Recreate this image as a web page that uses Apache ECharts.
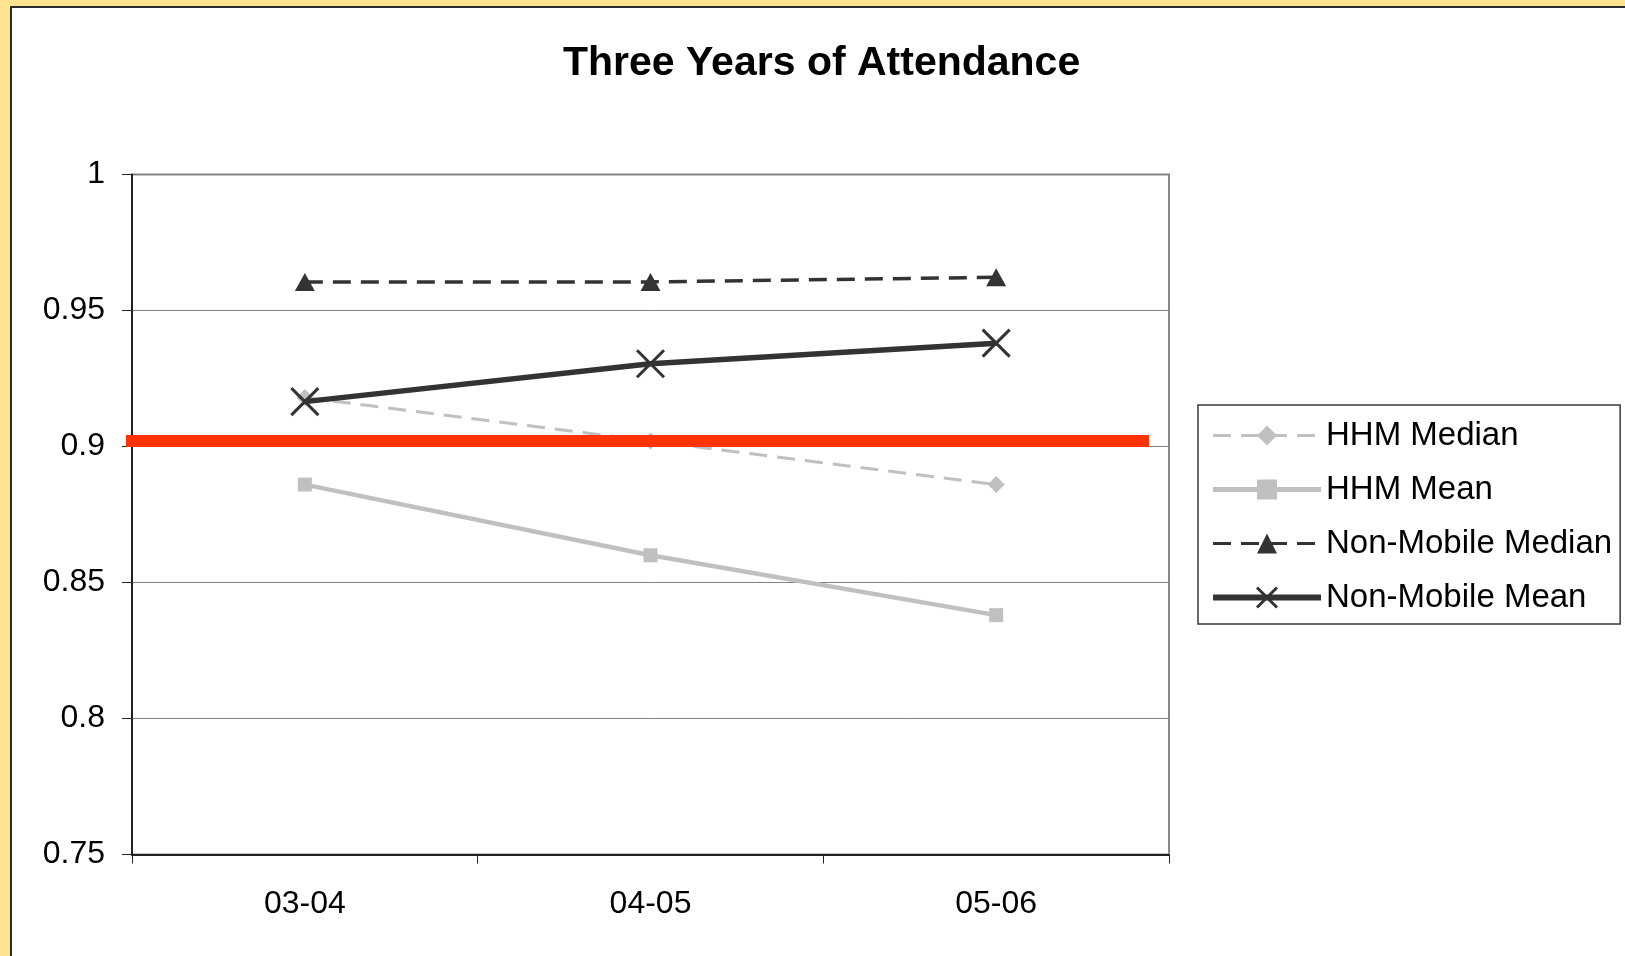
<!DOCTYPE html>
<html>
<head>
<meta charset="utf-8">
<title>Three Years of Attendance</title>
<script src="https://cdn.jsdelivr.net/npm/echarts@6/dist/echarts.min.js"></script>
<style>
  html, body { margin: 0; padding: 0; background: #FFE38F; }
  #panel {
    position: absolute; left: 10px; top: 6px; right: 0; bottom: 0;
    background: #ffffff;
    border-left: 2px solid #2a2a2a; border-top: 2px solid #2a2a2a;
  }
  #chart { position: absolute; left: 0; top: 0; width: 1625px; height: 956px; }
</style>
</head>
<body>
<div id="panel"></div>
<div id="chart"></div>
<script>
// School years on the category axis
const categories = ['03-04', '04-05', '05-06'];

// Attendance rates per series
const hhmMedian = [0.918, 0.902, 0.886];
const hhmMean = [0.886, 0.860, 0.838];
const nonMobileMedian = [0.9605, 0.9605, 0.9622];
const nonMobileMean = [0.9165, 0.9304, 0.938];

// Target attendance rate drawn as the red reference bar
const targetRate = 0.902;

// Value-axis ticks
const yMin = 0.75;
const yMax = 1;
const yStep = 0.05;

// Horizontal extent of the target bar, in category-band units
const targetFrom = -0.023;
const targetTo = 2.942;

const FONT = '"Liberation Sans", Arial, Helvetica, sans-serif';
const GRAY = '#c0c0c0';
const DARK = '#333333';

const chart = echarts.init(document.getElementById('chart'), null, { renderer: 'canvas' });

chart.setOption({
  animation: false,
  backgroundColor: 'transparent',
  title: {
    text: 'Three Years of Attendance',
    left: 563,
    top: 43,
    padding: 0,
    textStyle: { fontFamily: FONT, fontSize: 41, fontWeight: 'bold', color: '#000' }
  },
  grid: {
    left: 132, right: 456, top: 174.5, bottom: 101.5,
    containLabel: false,
    outerBoundsMode: 'none',
    show: true,
    backgroundColor: 'transparent',
    borderColor: '#888888',
    borderWidth: 2
  },
  legend: {
    orient: 'vertical',
    left: 1198,
    top: 405,
    padding: [14, 8, 10, 12],
    itemWidth: 108,
    itemHeight: 25,
    itemGap: 21,
    backgroundColor: '#ffffff',
    borderColor: '#3a3a3a',
    borderWidth: 1.5,
    borderRadius: 0,
    data: [
      { name: 'HHM Median', lineStyle: { width: 3 } },
      { name: 'HHM Mean', lineStyle: { width: 5 } },
      { name: 'Non-Mobile Median', lineStyle: { width: 3 } },
      { name: 'Non-Mobile Mean', lineStyle: { width: 6 }, itemStyle: { borderWidth: 3 } }
    ],
    textStyle: { fontFamily: FONT, fontSize: 33, lineHeight: 33, color: '#000' }
  },
  xAxis: [
    {
      type: 'category',
      data: categories,
      boundaryGap: true,
      axisLine: { show: true, lineStyle: { color: '#222', width: 2 } },
      axisTick: { show: true, length: 9, alignWithLabel: false, lineStyle: { color: '#222', width: 1 } },
      axisLabel: { margin: 34, fontFamily: FONT, fontSize: 32, color: '#000' },
      splitLine: { show: false }
    },
    {
      type: 'value',
      min: 0,
      max: 3,
      show: false
    }
  ],
  yAxis: {
    type: 'value',
    min: yMin,
    max: yMax,
    interval: yStep,
    axisLine: { show: true, lineStyle: { color: '#222', width: 2 } },
    axisTick: { show: true, length: 10, inside: false, lineStyle: { color: '#222', width: 1 } },
    axisLabel: {
      margin: 27,
      fontFamily: FONT,
      fontSize: 32,
      color: '#000',
      formatter: v => String(+v.toFixed(2))
    },
    splitLine: { show: true, lineStyle: { color: '#808080', width: 1 } }
  },
  series: [
    {
      name: 'HHM Median',
      type: 'line',
      data: hhmMedian,
      symbol: 'diamond',
      symbolSize: 17,
      showSymbol: true,
      lineStyle: { color: GRAY, width: 3, type: [18, 10] },
      itemStyle: { color: GRAY },
      emphasis: { disabled: true },
      z: 2
    },
    {
      name: 'HHM Mean',
      type: 'line',
      data: hhmMean,
      symbol: 'rect',
      symbolSize: 14,
      lineStyle: { color: GRAY, width: 4.5 },
      itemStyle: { color: GRAY },
      emphasis: { disabled: true },
      z: 2
    },
    {
      name: 'Target',
      type: 'line',
      xAxisIndex: 1,
      data: [[targetFrom, targetRate], [targetTo, targetRate]],
      symbol: 'none',
      clip: false,
      lineStyle: { color: '#FF3300', width: 12, cap: 'butt' },
      itemStyle: { color: '#FF3300' },
      emphasis: { disabled: true },
      silent: true,
      z: 3
    },
    {
      name: 'Non-Mobile Median',
      type: 'line',
      data: nonMobileMedian,
      symbol: 'triangle',
      symbolSize: [20, 18],
      lineStyle: { color: DARK, width: 3.5, type: [18, 10] },
      itemStyle: { color: DARK },
      emphasis: { disabled: true },
      z: 4
    },
    {
      name: 'Non-Mobile Mean',
      type: 'line',
      data: nonMobileMean,
      symbol: 'path://M0,0L10,10M10,0L0,10',
      symbolSize: 27,
      lineStyle: { color: DARK, width: 5.5 },
      itemStyle: { color: 'transparent', borderColor: DARK, borderWidth: 3 },
      emphasis: { disabled: true },
      z: 5
    }
  ]
});
</script>
</body>
</html>
